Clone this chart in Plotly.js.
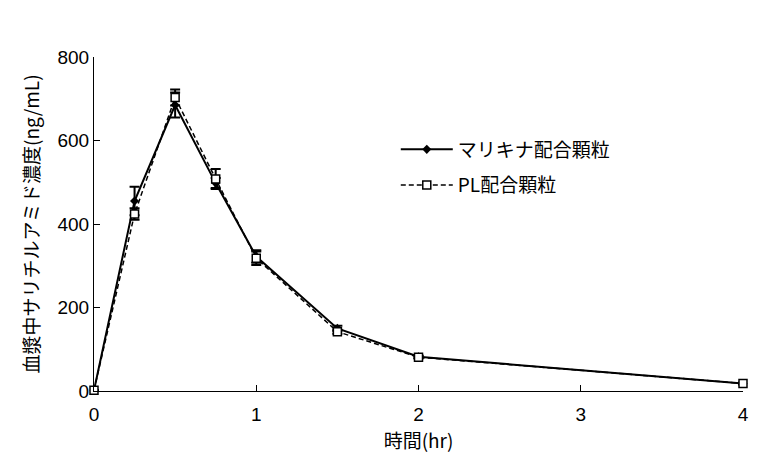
<!DOCTYPE html>
<html>
<head>
<meta charset="utf-8">
<script src="https://cdn.plot.ly/plotly-3.0.1.min.js"></script>
<style>html,body{margin:0;padding:0;background:#fff;}#chart{width:764px;height:460px;}</style>
</head>
<body>
<div id="chart"></div>
<script>
var timeHr = [0, 0.25, 0.5, 0.75, 1, 1.5, 2, 4];
var marikinaMean = [2, 455, 685, 498, 322, 150, 82, 18];
var marikinaSD = [0, 34, 30, 12, 15, 6, 3, 2];
var plMean = [2, 424, 703, 508, 318, 142, 81, 18];
var plSD = [0, 14, 19, 24, 16, 5, 3, 2];
var seriesNames = ['マリキナ配合顆粒', 'PL配合顆粒'];
var xTicks = [0, 1, 2, 3, 4];
var yTicks = [0, 200, 400, 600, 800];

var fontFam = 'Liberation Sans, Noto Sans CJK JP, sans-serif';
var cjkFam = 'Noto Sans CJK JP, sans-serif';

var traces = [
  {
    x: timeHr, y: marikinaMean, name: seriesNames[0], type: 'scatter', mode: 'lines+markers',
    legendgroup: 'a', cliponaxis: false,
    line: {color: '#000', width: 2},
    marker: {symbol: 'diamond', size: 7, color: '#000'},
    error_y: {type: 'data', array: marikinaSD, visible: true, color: '#000', thickness: 2, width: 5}
  },
  {
    x: timeHr, y: plMean, name: seriesNames[1], type: 'scatter', mode: 'lines+markers',
    legendgroup: 'b', cliponaxis: false,
    line: {color: '#000', width: 1.5, dash: '5px,3px'},
    marker: {symbol: 'square', size: 8, color: '#fff', line: {color: '#000', width: 1.5}},
    error_y: {type: 'data', array: plSD, visible: true, color: '#000', thickness: 2, width: 5}
  }
];

var layout = {
  width: 764, height: 460,
  margin: {l: 94, r: 21, t: 57, b: 69},
  paper_bgcolor: '#fff', plot_bgcolor: '#fff',
  font: {family: fontFam, size: 19, color: '#000'},
  showlegend: true,
  legend: {
    x: 0.465, y: 0.78, xanchor: 'left', yanchor: 'top',
    bgcolor: 'rgba(0,0,0,0)', borderwidth: 0,
    font: {family: cjkFam, size: 19, color: '#000'},
    itemwidth: 52, tracegroupgap: 8
  },
  xaxis: {
    range: [0, 4], tickvals: xTicks, ticktext: xTicks.map(String),
    showline: true, linecolor: '#000', linewidth: 1,
    ticks: 'inside', ticklen: 6, tickcolor: '#000',
    showgrid: false, zeroline: false,
    tickfont: {family: fontFam, size: 19},
    ticklabelstandoff: 6,
    title: {text: '時間(hr)', font: {family: cjkFam, size: 19}, standoff: 10}
  },
  yaxis: {
    range: [0, 800], tickvals: yTicks, ticktext: yTicks.map(String),
    showline: true, linecolor: '#000', linewidth: 1,
    ticks: 'inside', ticklen: 6, tickcolor: '#000',
    showgrid: false, zeroline: false,
    tickfont: {family: fontFam, size: 19},
    title: {text: '血漿中サリチルアミド濃度(ng/mL)', font: {family: cjkFam, size: 19}, standoff: 12}
  }
};

Plotly.newPlot('chart', traces, layout, {staticPlot: true, displayModeBar: false});
</script>
</body>
</html>
